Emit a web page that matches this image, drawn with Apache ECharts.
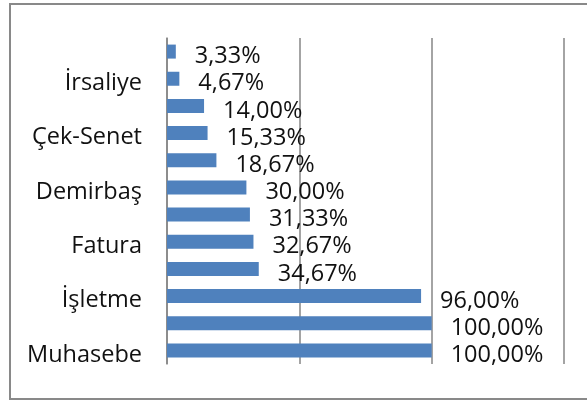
<!DOCTYPE html>
<html>
<head>
<meta charset="utf-8">
<script src="https://cdn.jsdelivr.net/npm/echarts@6/dist/echarts.min.js"></script>
<style>
  html, body { margin: 0; padding: 0; background: #fff; }
  #chart { width: 587px; height: 401px; }
</style>
</head>
<body>
<div id="chart"></div>
<script>
// kategoriler (alttan üste); sadece her ikinci etiket görünüyor
const categories = ['Muhasebe', '', 'İşletme', '', 'Fatura', '', 'Demirbaş', '', 'Çek-Senet', '', 'İrsaliye', '']
// yüzde değerleri
const values = [100, 100, 96, 34.67, 32.67, 31.33, 30, 18.67, 15.33, 14, 4.67, 3.33]
// x ekseni
const xMin = 0
const xMax = 150
const xStep = 50

const fontFamily = '"Open Sans", sans-serif'

const chart = echarts.init(document.getElementById('chart'))
chart.setOption({
  animation: false,
  graphic: [
    {
      type: 'rect',
      shape: { x: 10, y: 4, width: 620, height: 395 },
      style: { fill: 'none', stroke: '#898989', lineWidth: 2 }
    }
  ],
  grid: { left: 167, right: 23, top: 38, bottom: 37, containLabel: false },
  xAxis: {
    type: 'value',
    min: xMin,
    max: xMax,
    interval: xStep,
    axisLine: { show: false },
    axisTick: { show: false },
    axisLabel: { show: false },
    splitLine: { lineStyle: { color: '#868686', width: 1.5 } }
  },
  yAxis: {
    type: 'category',
    data: categories,
    axisLine: { lineStyle: { color: '#868686', width: 1.5 } },
    axisTick: { interval: 0, length: 6, lineStyle: { color: '#868686', width: 1.5 } },
    axisLabel: {
      interval: 0,
      margin: 25,
      formatter: v => (v ? '{a|' + v + '}' : ''),
      rich: {
        a: {
          padding: [9, 0, 0, 0],
          color: '#111',
          fontSize: 23.5,
          fontFamily: fontFamily
        }
      }
    }
  },
  series: [
    {
      type: 'bar',
      data: values,
      barWidth: 14,
      itemStyle: { color: '#4f81bd' },
      label: {
        show: true,
        position: 'right',
        distance: 19,
        offset: [0, 5],
        color: '#111',
        fontSize: 23.5,
        fontFamily: fontFamily,
        formatter: p => p.value.toFixed(2).replace('.', ',') + '%'
      }
    }
  ]
})
</script>
</body>
</html>
